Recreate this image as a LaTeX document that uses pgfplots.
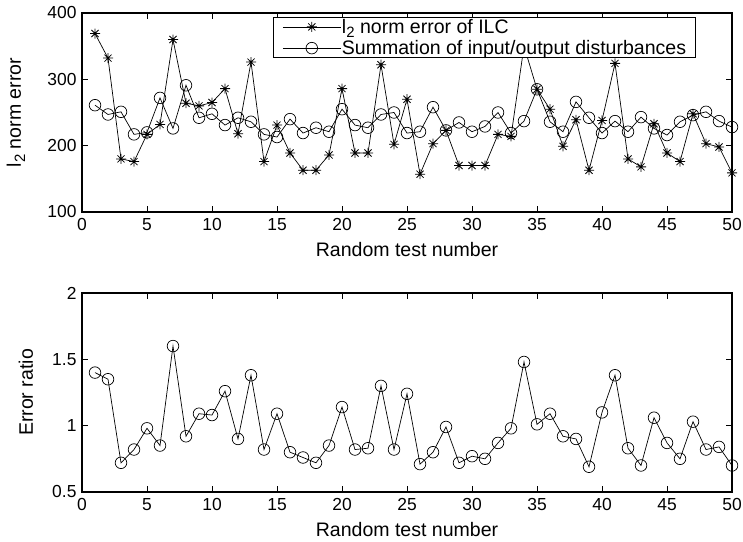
\documentclass[border=0pt]{standalone}
\usepackage{fontspec}
\setmainfont{Liberation Sans}
\usepackage{pgfplots}
\pgfplotsset{compat=1.18}
\pgfdeclareplotmark{mstar}{%
 \pgfpathmoveto{\pgfqpoint{-\pgfplotmarksize}{0pt}}\pgfpathlineto{\pgfqpoint{\pgfplotmarksize}{0pt}}%
 \pgfpathmoveto{\pgfqpoint{0pt}{-\pgfplotmarksize}}\pgfpathlineto{\pgfqpoint{0pt}{\pgfplotmarksize}}%
 \pgfpathmoveto{\pgfqpoint{-0.707\pgfplotmarksize}{-0.707\pgfplotmarksize}}\pgfpathlineto{\pgfqpoint{0.707\pgfplotmarksize}{0.707\pgfplotmarksize}}%
 \pgfpathmoveto{\pgfqpoint{-0.707\pgfplotmarksize}{0.707\pgfplotmarksize}}\pgfpathlineto{\pgfqpoint{0.707\pgfplotmarksize}{-0.707\pgfplotmarksize}}%
 \pgfusepathqstroke}
\newcommand{\ltwo}{l\raisebox{-0.4ex}{\fontsize{15}{15}\selectfont 2}}
\pgfplotstableread{
x ilc sum ratio
1 369 261 1.40
2 332 247 1.35
3 180 251 0.72
4 176 217 0.82
5 217 220 0.98
6 232 272 0.85
7 360 226 1.60
8 264 291 0.92
9 260 242 1.09
10 265 248 1.08
11 286 231 1.26
12 218 242 0.90
13 326 236 1.38
14 176 217 0.82
15 231 213 1.09
16 189 240 0.80
17 163 219 0.76
18 163 227 0.72
19 186 221 0.85
20 286 255 1.14
21 189 231 0.82
22 189 227 0.83
23 322 247 1.30
24 202 250 0.82
25 270 219 1.24
26 157 221 0.71
27 203 258 0.80
28 223 223 0.99
29 170 235 0.72
30 170 221 0.77
31 170 229 0.75
32 217 250 0.87
33 214 219 0.98
34 350 237 1.48
35 285 285 1.01
36 255 236 1.09
37 199 221 0.92
38 239 266 0.90
39 163 242 0.69
40 238 219 1.10
41 324 237 1.38
42 180 221 0.83
43 168 243 0.70
44 233 226 1.06
45 189 216 0.87
46 176 236 0.75
47 248 246 1.03
48 203 251 0.82
49 198 237 0.84
50 159 228 0.70
}\datatable
\pgfplotsset{
  mystyle/.style={
    scale only axis, width=650bp, height=199bp,
    xmin=0, xmax=50, xtick={0,5,...,50},
    axis line style={line width=1.3bp},
    tick style={line width=0.7bp, black},
    tick align=inside, major tick length=6bp,
    xtick pos=both, ytick pos=both,
    /pgf/number format/assume math mode=true,
    ticklabel style={font=\fontsize{17.5}{18}\selectfont},
    xticklabel style={yshift=-3bp},
    yticklabel style={xshift=-2bp},
    label style={font=\fontsize{19.6}{20}\selectfont},
    xlabel style={at={(axis description cs:0.5,-0.226)}, anchor=base},
    xlabel={Random test number},
  }
}
\begin{document}
\begin{tikzpicture}[x=1bp,y=1bp]
\useasboundingbox (0,0) rectangle (743,542);
\begin{axis}[mystyle, at={(82bp,330bp)}, anchor=south west,
  ymin=100, ymax=400, ytick={100,200,300,400},
  ylabel={\ltwo{} norm error},
  ylabel style={at={(axis description cs:-0.094,0.5)}, anchor=base},
  legend style={at={(0.945,0.978)}, anchor=north east, draw=black, line width=0.8bp,
    fill=white, font=\fontsize{19.6}{20}\selectfont, inner xsep=9bp, inner ysep=0.5bp,
    nodes={inner sep=0.8bp}, row sep=4bp, cells={anchor=west},
    /tikz/every even column/.append style={column sep=8bp}},
  legend image code/.code={\draw[mark repeat=2,mark phase=2,#1] plot coordinates {(0bp,0bp) (29bp,0bp) (58bp,0bp)};},
]
\addplot[black, line width=0.7bp, mark=mstar, mark size=5bp, mark options={line width=0.8bp}] table[x=x,y=ilc] {\datatable};
\addlegendentry{\ltwo{} norm error of ILC}
\addplot[black, line width=0.7bp, mark=o, mark size=5.8bp, mark options={line width=0.7bp}] table[x=x,y=sum] {\datatable};
\addlegendentry{Summation of input/output disturbances}
\end{axis}
\begin{axis}[mystyle, at={(82bp,50bp)}, anchor=south west,
  ymin=0.5, ymax=2, ytick={0.5,1,1.5,2},
  yticklabels={0.5,1,1.5,2},
  ylabel={Error ratio},
  ylabel style={at={(axis description cs:-0.0754,0.5)}, anchor=base},
]
\addplot[black, line width=0.7bp, mark=o, mark size=5.8bp, mark options={line width=0.7bp}] table[x=x,y=ratio] {\datatable};
\end{axis}
\end{tikzpicture}
\end{document}
